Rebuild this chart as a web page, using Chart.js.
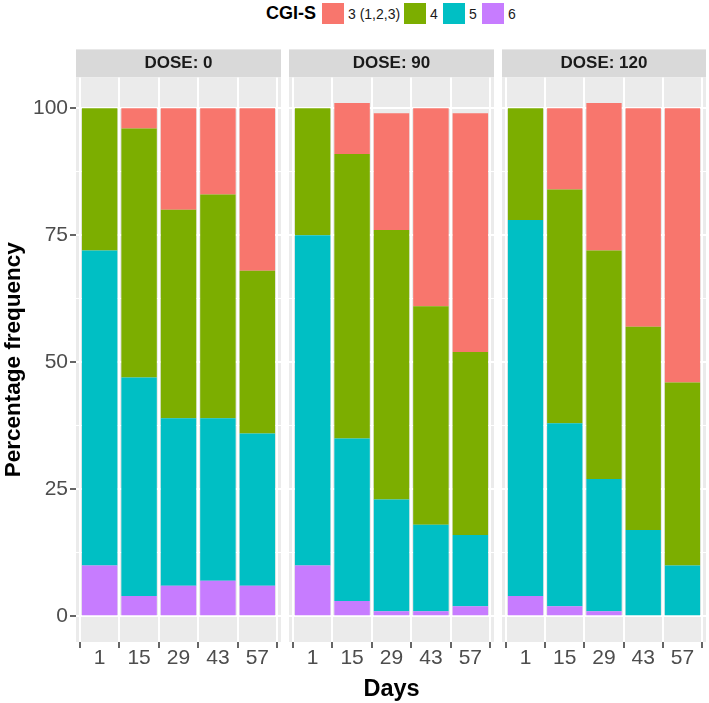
<!DOCTYPE html>
<html><head><meta charset="utf-8">
<script src="https://cdn.jsdelivr.net/npm/chart.js@4.4.1/dist/chart.umd.min.js"></script>
<style>
html,body{margin:0;padding:0;background:#fff;}
#wrap{position:relative;width:709px;height:703px;overflow:hidden;font-family:"Liberation Sans",Arial,sans-serif;}
canvas{position:absolute;top:0;}
#legend{position:absolute;left:0;top:0;width:709px;height:28px;}
#legend span{position:absolute;white-space:nowrap;}
#legend .ttl{font-weight:bold;font-size:18px;color:#000;top:2px;line-height:22px;}
#legend .key{width:21.5px;height:21.5px;top:2.5px;}
#legend .lab{font-size:14px;color:#1A1A1A;top:2.5px;line-height:22px;}
</style></head>
<body>
<div id="wrap">
 <div id="legend"></div>
 <canvas id="c0" width="281" height="703" style="left:0px"></canvas>
 <canvas id="c1" width="205" height="703" style="left:289px"></canvas>
 <canvas id="c2" width="204" height="703" style="left:502px"></canvas>
</div>
<script>
// ---- data ----
const days = ["1", "15", "29", "43", "57"];
const dayIndex = [1, 2, 3, 4, 5];
const doseTitles = ["DOSE: 0", "DOSE: 90", "DOSE: 120"];
const legendTitle = "CGI-S";
const cgiLevels = ["3 (1,2,3)", "4", "5", "6"];
const cgiColors = ["#F8766D", "#7CAE00", "#00BFC4", "#C77CFF"];

const dose0_cgi3 = [0, 4, 20, 17, 32];
const dose0_cgi4 = [28, 49, 41, 44, 32];
const dose0_cgi5 = [62, 43, 33, 32, 30];
const dose0_cgi6 = [10, 4, 6, 7, 6];

const dose90_cgi3 = [0, 10, 23, 39, 47];
const dose90_cgi4 = [25, 56, 53, 43, 36];
const dose90_cgi5 = [65, 32, 22, 17, 14];
const dose90_cgi6 = [10, 3, 1, 1, 2];

const dose120_cgi3 = [0, 16, 29, 43, 54];
const dose120_cgi4 = [22, 46, 45, 40, 36];
const dose120_cgi5 = [74, 36, 26, 17, 10];
const dose120_cgi6 = [4, 2, 1, 0, 0];

const yMajorTicks = [0, 25, 50, 75, 100];
const yMinorTicks = [12.5, 37.5, 62.5, 87.5];

const doseSeries = [
  [dose0_cgi3, dose0_cgi4, dose0_cgi5, dose0_cgi6],
  [dose90_cgi3, dose90_cgi4, dose90_cgi5, dose90_cgi6],
  [dose120_cgi3, dose120_cgi4, dose120_cgi5, dose120_cgi6]
];

// ---- legend (HTML, placed like the reference) ----
const legendKeyX = [322, 404, 443, 482];
const lg = document.getElementById('legend');
const t = document.createElement('span'); t.className = 'ttl'; t.textContent = legendTitle; t.style.left = '266px'; lg.appendChild(t);
cgiLevels.forEach((lab, k) => {
  const key = document.createElement('span'); key.className = 'key';
  key.style.background = cgiColors[k]; key.style.left = legendKeyX[k] + 'px'; lg.appendChild(key);
  const l = document.createElement('span'); l.className = 'lab'; l.textContent = lab;
  l.style.left = (legendKeyX[k] + 26) + 'px'; lg.appendChild(l);
});

Chart.defaults.font.family = '"Liberation Sans", Arial, sans-serif';

const panelPlugin = {
  id: 'panelBg',
  beforeDraw(chart) {
    const { ctx, chartArea: a } = chart;
    ctx.save();
    ctx.fillStyle = '#D9D9D9';
    ctx.fillRect(a.left, a.top - 28, a.right - a.left, 28);
    ctx.fillStyle = '#EBEBEB';
    ctx.fillRect(a.left, a.top, a.right - a.left, a.bottom - a.top);
    ctx.restore();
  }
};

const isMajor = v => yMajorTicks.includes(v);

doseTitles.forEach((title, i) => {
  const datasets = [3, 2, 1, 0].map(k => ({
    label: cgiLevels[k],
    data: dayIndex.map((x, j) => ({ x: x, y: doseSeries[i][k][j] })),
    backgroundColor: cgiColors[k],
    borderWidth: 0,
    barPercentage: 0.9,
    categoryPercentage: 1
  }));
  new Chart(document.getElementById('c' + i), {
    type: 'bar',
    data: { datasets },
    plugins: [panelPlugin],
    options: {
      responsive: false,
      animation: false,
      events: [],
      layout: { padding: { top: 49, left: 0, right: 0, bottom: 0 } },
      plugins: {
        legend: { display: false },
        tooltip: { enabled: false },
        title: {
          display: true, text: title, fullSize: false,
          font: { size: 17, weight: 'bold' }, color: '#1A1A1A',
          padding: { top: 4, bottom: 4 }
        }
      },
      scales: {
        x: {
          type: 'linear', min: 0.4, max: 5.6, stacked: true, offset: false,
          afterBuildTicks: a => { a.ticks = dayIndex.map(v => ({ value: v })); },
          afterFit: s => { s.height = 61; },
          ticks: { callback: v => days[v - 1], color: '#4D4D4D', font: { size: 21 }, padding: -2, maxRotation: 0, autoSkip: false },
          grid: { color: '#FFFFFF', lineWidth: 2, tickColor: '#333333', tickWidth: 1.5, tickLength: 6 },
          border: { display: false },
          title: { display: i === 1, text: 'Days', font: { size: 23.5, weight: 'bold' }, color: '#000', padding: { top: 0, bottom: -1 } }
        },
        y: {
          min: -5.05, max: 106.05, stacked: true,
          afterBuildTicks: a => { a.ticks = yMajorTicks.concat(yMinorTicks).sort((p, q) => p - q).map(v => ({ value: v })); },
          afterFit: s => { s.width = i === 0 ? 76 : 0; },
          ticks: { display: i === 0, callback: v => isMajor(v) ? String(v) : '', color: '#4D4D4D', font: { size: 21 }, padding: 2 },
          grid: {
            color: '#FFFFFF',
            lineWidth: c => (c.tick && isMajor(c.tick.value)) ? 2 : 1,
            tickColor: c => (c.tick && isMajor(c.tick.value)) ? '#333333' : 'rgba(0,0,0,0)',
            tickWidth: 1.5, tickLength: 6, drawTicks: i === 0
          },
          border: { display: false },
          title: { display: i === 0, text: 'Percentage frequency', font: { size: 22.5, weight: 'bold' }, color: '#000', padding: 0 }
        }
      }
    }
  });
});
</script>
</body></html>
